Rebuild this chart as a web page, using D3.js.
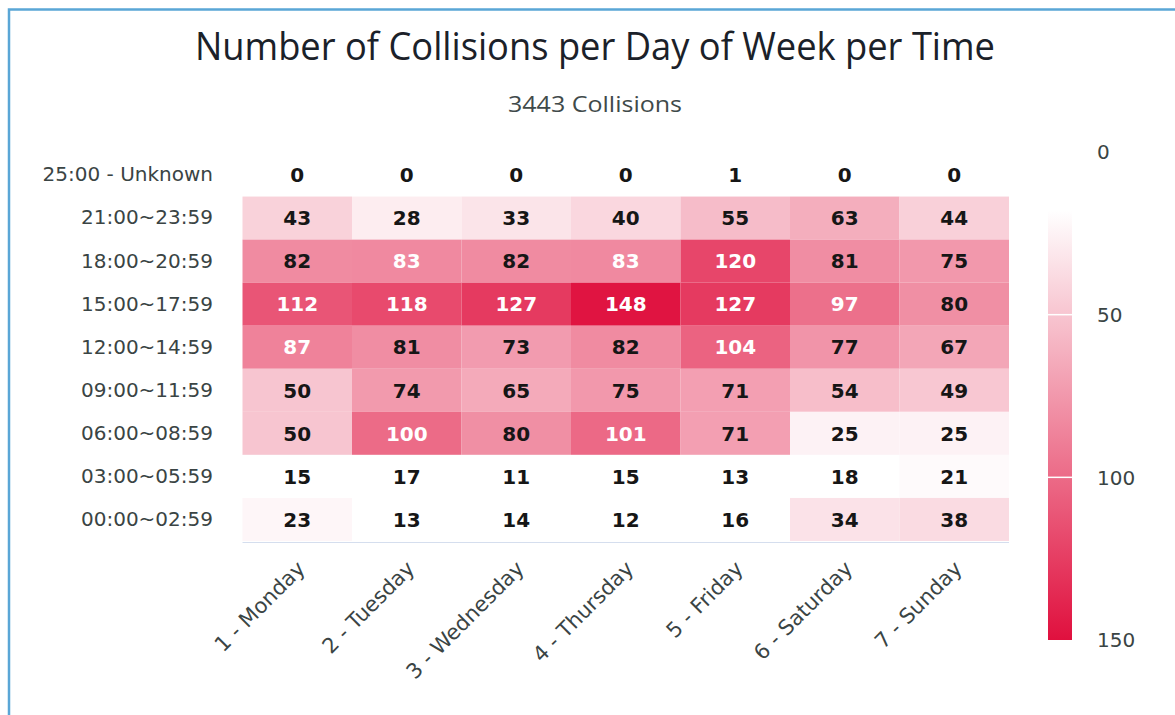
<!DOCTYPE html>
<html>
<head>
<meta charset="utf-8">
<script src="https://cdn.jsdelivr.net/npm/d3@7"></script>
<style>
  html, body { margin: 0; padding: 0; background: #fff; }
  svg { display: block; }
</style>
</head>
<body>
<svg id="chart" width="1175" height="715"></svg>
<script>
const title = "Number of Collisions per Day of Week per Time";
const subtitle = "3443 Collisions";
const days = ["1 - Monday", "2 - Tuesday", "3 - Wednesday", "4 - Thursday", "5 - Friday", "6 - Saturday", "7 - Sunday"];
const times = ["25:00 - Unknown", "21:00~23:59", "18:00~20:59", "15:00~17:59", "12:00~14:59", "09:00~11:59", "06:00~08:59", "03:00~05:59", "00:00~02:59"];
const unknownRow = [0, 0, 0, 0, 1, 0, 0];
const row21 = [43, 28, 33, 40, 55, 63, 44];
const row18 = [82, 83, 82, 83, 120, 81, 75];
const row15 = [112, 118, 127, 148, 127, 97, 80];
const row12 = [87, 81, 73, 82, 104, 77, 67];
const row09 = [50, 74, 65, 75, 71, 54, 49];
const row06 = [50, 100, 80, 101, 71, 25, 25];
const row03 = [15, 17, 11, 15, 13, 18, 21];
const row00 = [23, 13, 14, 12, 16, 34, 38];
const legendTicks = [0, 50, 100, 150];

const rows = [unknownRow, row21, row18, row15, row12, row09, row06, row03, row00];
const cells = [];
rows.forEach((r, i) => r.forEach((v, j) => cells.push({ time: times[i], day: days[j], value: v })));

const svg = d3.select("#chart");
const W = 1175, H = 715;
svg.append("rect").attr("width", W).attr("height", H).attr("fill", "#fff");
// frame
svg.append("rect").attr("x", 9).attr("y", 9.5).attr("width", W + 20).attr("height", H + 20)
  .attr("fill", "none").attr("stroke", "#5AA6D6").attr("stroke-width", 2.5);

const labelFont = "'DejaVu Sans', Verdana, sans-serif";

// title
svg.append("text").attr("x", 595).attr("y", 60).attr("text-anchor", "middle")
  .attr("font-family", "'Open Sans', 'Noto Sans', sans-serif").attr("font-size", 38)
  .attr("fill", "#1b2129").attr("textLength", 800).attr("lengthAdjust", "spacingAndGlyphs")
  .text(title);
svg.append("text").attr("x", 595).attr("y", 112).attr("text-anchor", "middle")
  .attr("font-family", "'Open Sans', 'Noto Sans', sans-serif").attr("font-size", 21)
  .attr("fill", "#3f4a4a").attr("textLength", 174).attr("lengthAdjust", "spacingAndGlyphs")
  .text(subtitle);

const x = d3.scaleBand().domain(days).range([242.5, 1009]).padding(0);
const y = d3.scaleBand().domain(times).range([153.5, 541]).padding(0);
// light end washed out as in the scanned reference
const color = d3.scaleLinear().domain([0, 18, 150]).range(["#FFFFFF", "#FFFFFF", "#E0103E"]).clamp(true);

// cells
svg.append("g").selectAll("rect").data(cells).join("rect")
  .attr("x", d => x(d.day)).attr("y", d => y(d.time))
  .attr("width", x.bandwidth()).attr("height", y.bandwidth())
  .attr("fill", d => color(d.value));

// data labels
svg.append("g").selectAll("text").data(cells).join("text")
  .attr("x", d => x(d.day) + x.bandwidth() / 2)
  .attr("y", d => y(d.time) + y.bandwidth() / 2)
  .attr("dy", "0.36em").attr("text-anchor", "middle")
  .attr("font-family", labelFont).attr("font-weight", "bold").attr("font-size", 20)
  .attr("fill", d => d.value >= 83 ? "#ffffff" : "#161616")
  .text(d => d.value);

// x axis line
svg.append("line").attr("x1", 242.5).attr("x2", 1009).attr("y1", 542.5).attr("y2", 542.5)
  .attr("stroke", "#d5deee").attr("stroke-width", 1);

// y axis labels
const yAxis = d3.axisLeft(y).tickSize(0).tickPadding(0);
const gy = svg.append("g").attr("transform", "translate(213,0)").call(yAxis);
gy.select(".domain").remove();
gy.selectAll("text").attr("font-family", labelFont).attr("font-size", 20).attr("fill", "#3a4444");

// x axis labels
const xAxis = d3.axisBottom(x).tickSize(0).tickPadding(0);
const gx = svg.append("g").attr("transform", "translate(0,570)").call(xAxis);
gx.select(".domain").remove();
gx.selectAll("text")
  .attr("font-family", labelFont).attr("font-size", 21).attr("fill", "#3a4444")
  .attr("text-anchor", "end").attr("dy", 0)
  .attr("transform", "translate(9,0) rotate(-45)");

// legend
const ly = d3.scaleLinear().domain([0, 150]).range([152, 640]);
const defs = svg.append("defs");
const grad = defs.append("linearGradient").attr("id", "lg").attr("x1", 0).attr("y1", 0).attr("x2", 0).attr("y2", 1);
color.domain().forEach(v => {
  grad.append("stop").attr("offset", (v / 150 * 100) + "%").attr("stop-color", color(v));
});
svg.append("rect").attr("x", 1048).attr("y", ly(0)).attr("width", 24).attr("height", ly(150) - ly(0))
  .attr("fill", "url(#lg)");
svg.append("g").selectAll("line").data(legendTicks.filter(t => t > 0 && t < 150)).join("line")
  .attr("x1", 1048).attr("x2", 1072).attr("y1", d => ly(d)).attr("y2", d => ly(d))
  .attr("stroke", "#fff").attr("stroke-width", 1.5);
svg.append("g").selectAll("text").data(legendTicks).join("text")
  .attr("x", 1097).attr("y", d => ly(d)).attr("dy", "0.36em")
  .attr("font-family", labelFont).attr("font-size", 20).attr("fill", "#3a4444")
  .text(d => d);
</script>
</body>
</html>
